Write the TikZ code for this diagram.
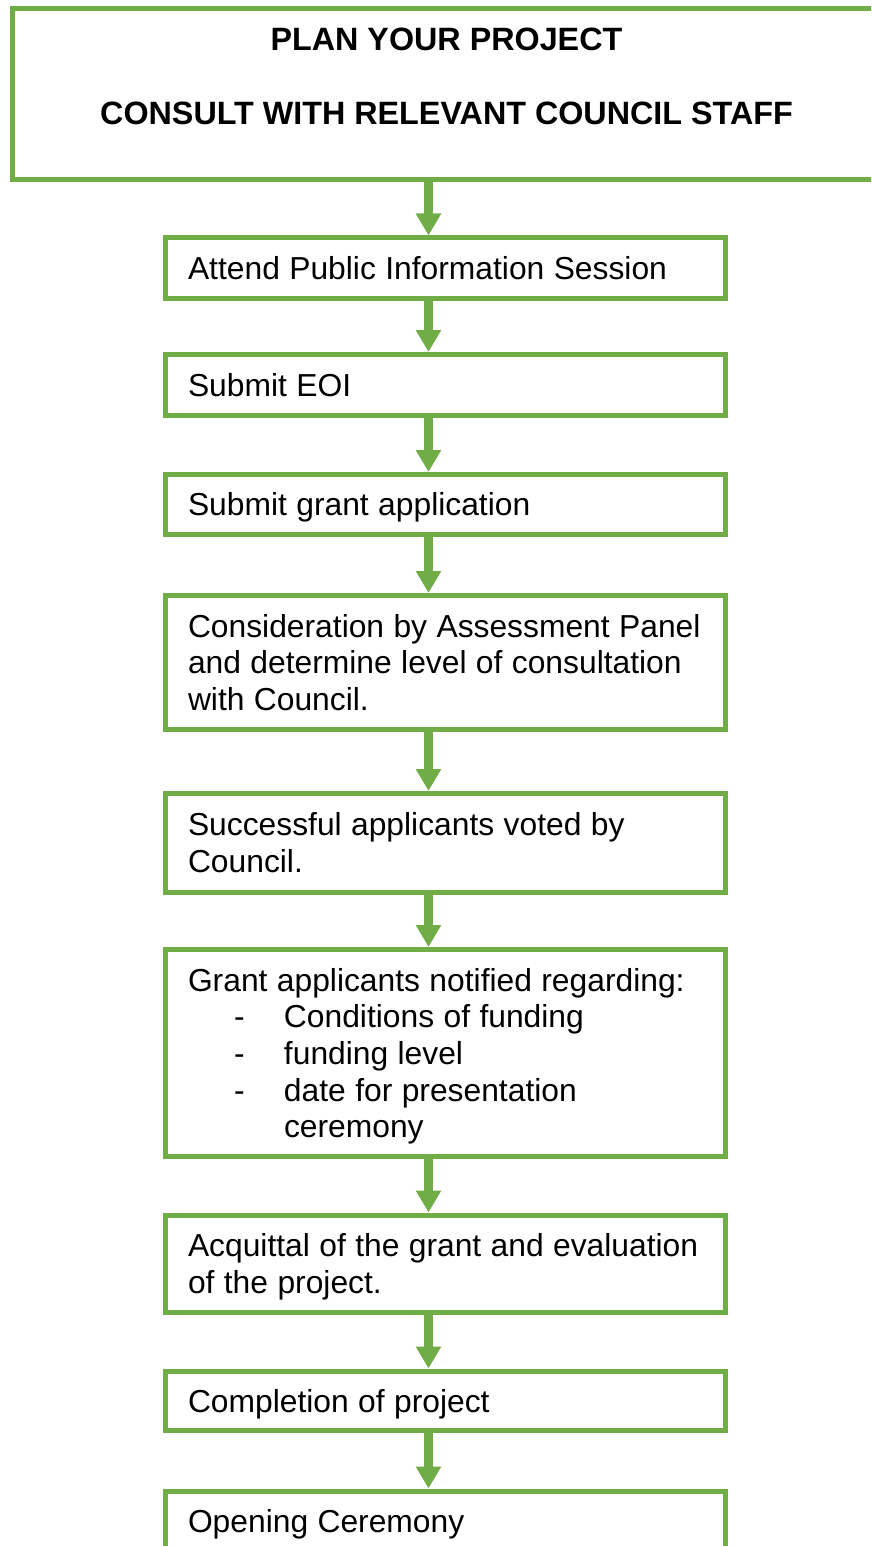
\documentclass[tikz,border=0pt]{standalone}
\usepackage{fontspec}
\setmainfont{Liberation Sans}
\usetikzlibrary{arrows.meta}
\definecolor{boxgreen}{RGB}{112,173,71}
\newcommand\mystrut{\rule[-6.9pt]{0pt}{36.7pt}}
\newcommand\tline[1]{\mystrut\mbox{\spaceskip 9.4pt\relax #1}}
\newcommand\dashitem{\hspace*{46pt}\makebox[50pt][l]{-}}
\newcommand\stepfont{\fontsize{31.8}{36.7}\selectfont}
\begin{document}
\begin{tikzpicture}[x=1pt,y=-1pt,
  stepbox/.style={draw=boxgreen, line width=5pt, rectangle, inner xsep=22.5pt, inner ysep=0pt,
    text width=515pt, align=left, font=\stepfont, anchor=center},
  headbox/.style={draw=boxgreen, line width=5pt, rectangle, inner sep=0pt,
    minimum width=869pt, minimum height=171.5pt, align=center,
    font=\bfseries\fontsize{32.3}{36.7}\selectfont},
  flow/.style={draw=boxgreen, line width=9pt, -{Triangle[width=24pt,length=22pt]}}]
\clip (0,0) rectangle (871,1546);
\fill[white] (0,0) rectangle (871,1546);
\coordinate (ax) at (428.5,0);
\node[headbox] (top) at (446.5,94.25) {\mystrut PLAN YOUR PROJECT\\ \mystrut\\ \mystrut CONSULT WITH RELEVANT COUNCIL STAFF\\ \mystrut};
\node[stepbox, minimum height=60.5pt] (b1) at (445.5,268.25) {\tline{Attend Public Information Session}};
\node[stepbox, minimum height=61pt] (b2) at (445.5,385) {\tline{Submit EOI}};
\node[stepbox, minimum height=60pt] (b3) at (445.5,504.5) {\tline{Submit grant application}};
\node[stepbox, minimum height=134pt] (b4) at (445.5,662.5) {\tline{Consideration by Assessment Panel}\\ \tline{and determine level of consultation}\\ \tline{with Council.}};
\node[stepbox, minimum height=98.5pt] (b5) at (445.5,842.75) {\tline{Successful applicants voted by}\\ \tline{Council.}};
\node[stepbox, minimum height=207pt] (b6) at (445.5,1053) {\tline{Grant applicants notified regarding:}\\ \tline{\dashitem Conditions of funding}\\ \tline{\dashitem funding level}\\ \tline{\dashitem date for presentation}\\ \tline{\hspace*{96pt}ceremony}};
\node[stepbox, minimum height=97.5pt] (b7) at (445.5,1263.75) {\tline{Acquittal of the grant and evaluation}\\ \tline{of the project.}};
\node[stepbox, minimum height=59.5pt] (b8) at (445.5,1400.75) {\tline{Completion of project}};
\node[stepbox, minimum height=60pt] (b9) at (445.5,1521) {\tline{Opening Ceremony}};
\draw[flow] (top.south -| ax) -- (b1.north -| ax);
\draw[flow] (b1.south -| ax) -- (b2.north -| ax);
\draw[flow] (b2.south -| ax) -- (b3.north -| ax);
\draw[flow] (b3.south -| ax) -- (b4.north -| ax);
\draw[flow] (b4.south -| ax) -- (b5.north -| ax);
\draw[flow] (b5.south -| ax) -- (b6.north -| ax);
\draw[flow] (b6.south -| ax) -- (b7.north -| ax);
\draw[flow] (b7.south -| ax) -- (b8.north -| ax);
\draw[flow] (b8.south -| ax) -- (b9.north -| ax);
\end{tikzpicture}
\end{document}
